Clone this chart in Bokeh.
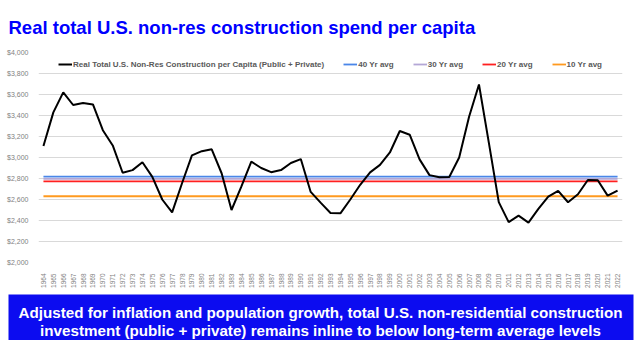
from math import pi
from bokeh.plotting import figure
from bokeh.models import (FactorRange, Range1d, FixedTicker, NumeralTickFormatter,
                          Legend, LegendItem, Label)
from bokeh.layouts import column
from bokeh.embed import file_html
from bokeh.resources import INLINE

# ---------------- data ----------------
years = [str(y) for y in range(1964, 2023)]
spend = [3110, 3430, 3620, 3500, 3520, 3505, 3260, 3115, 2855, 2880,
         2955, 2815, 2600, 2478, 2755, 3020, 3060, 3078, 2850, 2500,
         2725, 2960, 2900, 2860, 2880, 2948, 2985, 2672, 2570, 2472,
         2468, 2600, 2740, 2858, 2930, 3048, 3252, 3217, 2982, 2832,
         2812, 2815, 3000, 3388, 3695, 3140, 2575, 2384, 2446, 2380,
         2510, 2627, 2682, 2574, 2650, 2786, 2783, 2637, 2685]
avg_names = ["40 Yr avg", "30 Yr avg", "20 Yr avg", "10 Yr avg"]
avg_values = [2818, 2796, 2772, 2631]
avg_colors = ["#4a86e8", "#b4a7d6", "#ff2020", "#ff9a1f"]
y_ticks = [2000, 2200, 2400, 2600, 2800, 3000, 3200, 3400, 3600, 3800, 4000]

series_name = "Real Total U.S. Non-Res Construction per Capita (Public + Private)"
title_text = "Real total U.S. non-res construction spend per capita"
note_lines = ["Adjusted for inflation and population growth, total U.S. non-residential construction",
              "investment (public + private) remains inline to below long-term average levels"]

FONT = "Liberation Sans"


def no_align(fig):
    try:
        fig.frame_align = False
    except Exception:
        pass


# ---------------- title strip ----------------
t = figure(width=640, height=40, x_range=Range1d(0, 640), y_range=Range1d(40, 0),
           output_backend="svg", toolbar_location=None, x_axis_type=None, y_axis_type=None,
           min_border=0)
no_align(t)
t.grid.visible = False
t.outline_line_color = None
t.add_layout(Label(x=8, y=27, text=title_text, text_font=FONT, text_font_size="18.5px",
                   text_font_style="bold", text_color="#0000ff", text_baseline="alphabetic"))

# ---------------- main chart ----------------
p = figure(width=640, height=252, x_range=FactorRange(*years), y_range=Range1d(2000, 4000),
           output_backend="svg", toolbar_location=None,
           min_border_left=38, min_border_right=18, min_border_top=12, min_border_bottom=30)
no_align(p)
p.outline_line_color = None
p.xgrid.visible = False
p.ygrid.grid_line_color = "#d9d9d9"
p.ygrid.grid_line_width = 1.2

p.yaxis.ticker = FixedTicker(ticks=y_ticks)
p.yaxis.formatter = NumeralTickFormatter(format="$0,0")
for ax in (p.xaxis[0], p.yaxis[0]):
    ax.axis_line_color = None
    ax.major_tick_line_color = None
    ax.minor_tick_line_color = None
    ax.major_label_text_font = FONT
    ax.major_label_text_color = "#7f7f7f"
p.yaxis.major_label_text_font_size = "7px"
p.yaxis.major_label_standoff = 4
p.xaxis.major_label_text_font_size = "6.5px"
p.xaxis.major_label_orientation = pi / 2
p.xaxis.major_label_standoff = 5

avg_renderers = []
for name, val, col in zip(avg_names, avg_values, avg_colors):
    r = p.line(x=[years[0], years[-1]], y=[val, val], line_color=col, line_width=1.8)
    avg_renderers.append(r)
main_r = p.line(x=years, y=spend, line_color="black", line_width=2)

items = [LegendItem(label=series_name, renderers=[main_r])]
for name, r in zip(avg_names, avg_renderers):
    items.append(LegendItem(label=name, renderers=[r]))
legend = Legend(items=items, location="top_center", orientation="horizontal",
                margin=7, padding=0, spacing=19, glyph_width=14, glyph_height=10,
                label_height=10, label_standoff=1,
                label_text_font=FONT, label_text_font_size="8px",
                label_text_font_style="bold", label_text_color="#595959",
                background_fill_alpha=0, border_line_color=None)
p.add_layout(legend, "center")

# ---------------- bottom note box ----------------
b = figure(width=640, height=48, x_range=Range1d(0, 640), y_range=Range1d(48, 0),
           output_backend="svg", toolbar_location=None, x_axis_type=None, y_axis_type=None,
           min_border=0)
no_align(b)
b.grid.visible = False
b.outline_line_color = None
b.quad(left=8, right=633, top=2, bottom=48, fill_color="#0c0cf0", line_color=None)
for i, line in enumerate(note_lines):
    b.add_layout(Label(x=320, y=20.3 + i * 17.7, text=line, text_font=FONT,
                       text_font_size="15.2px", text_font_style="bold", text_color="white",
                       text_align="center", text_baseline="alphabetic"))

layout = column(t, p, b, spacing=0)
open("out.html", "w").write(file_html(layout, INLINE))
